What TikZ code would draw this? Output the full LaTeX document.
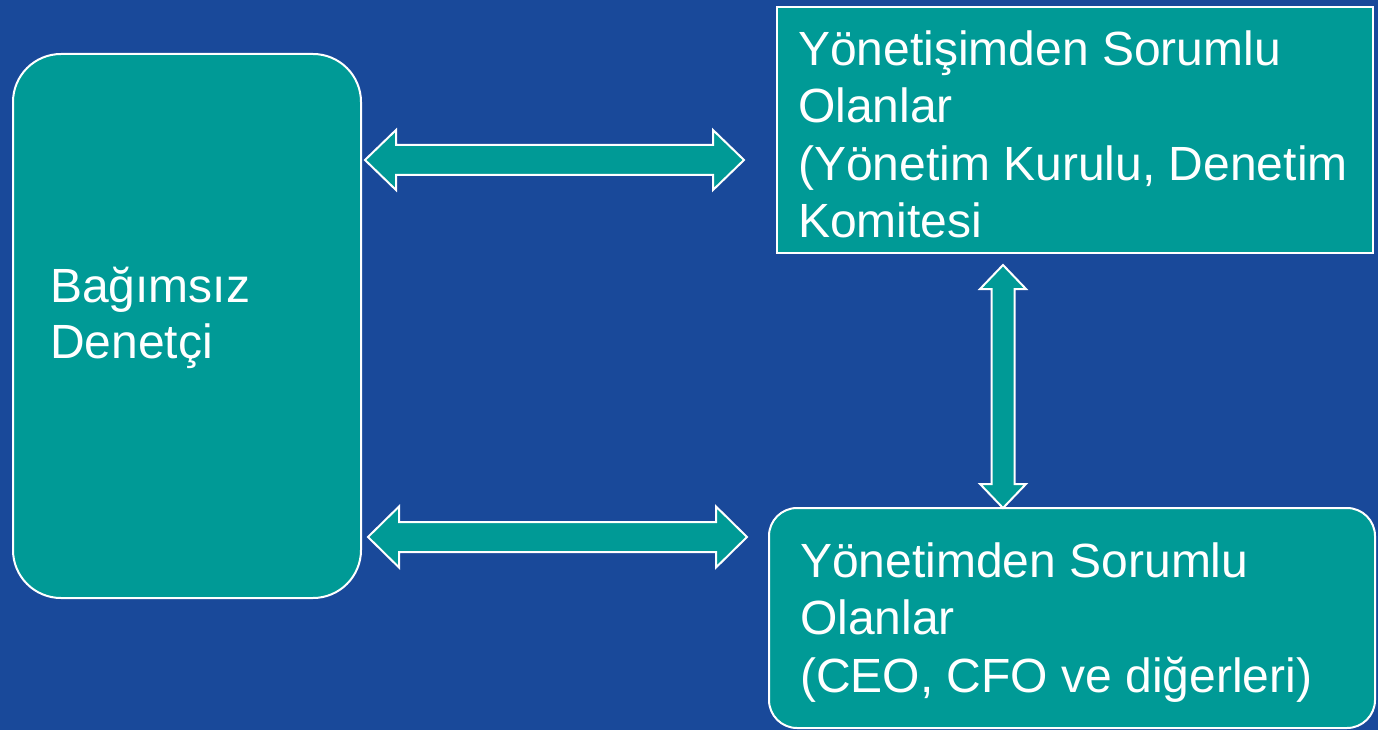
\documentclass[tikz,border=0pt]{standalone}
\usepackage{fontspec}
\setmainfont{Liberation Sans}
\usetikzlibrary{calc}
\definecolor{bgblue}{HTML}{19499A}
\definecolor{teal}{HTML}{009A96}
\newcommand\dblarrow[5]{%
 \draw[arrowsty] (#1) -- ($(#1)!#5!(#2)!#4!90:(#2)$) -- ($(#1)!#5!(#2)!#3!90:(#2)$)
  -- ($(#2)!#5!(#1)!#3!-90:(#1)$) -- ($(#2)!#5!(#1)!#4!-90:(#1)$) -- (#2)
  -- ($(#2)!#5!(#1)!#4!90:(#1)$) -- ($(#2)!#5!(#1)!#3!90:(#1)$)
  -- ($(#1)!#5!(#2)!#3!-90:(#2)$) -- ($(#1)!#5!(#2)!#4!-90:(#2)$) -- cycle;}
\begin{document}
\begin{tikzpicture}[x=1pt,y=-1pt,
  boxsty/.style={draw=white, line width=2pt, fill=teal, inner sep=0pt, outer sep=0pt},
  txtsty/.style={text=white, inner sep=0pt, anchor=north west, align=left,
    font={\fontsize{48}{57.5}\selectfont}},
  arrowsty/.style={draw=white, line width=2pt, fill=teal, line join=miter}]
\useasboundingbox (0,0) rectangle (1378,730);
\fill[bgblue] (0,0) rectangle (1378,730);
% boxes
\node[boxsty, rounded corners=48pt, minimum width=348pt, minimum height=544pt] (aud) at (187,326) {};
\node[boxsty, minimum width=596pt, minimum height=246pt] (gov) at (1075,130) {};
\node[boxsty, rounded corners=28pt, minimum width=606pt, minimum height=220pt] (mgmt) at (1072,618) {};
% texts
\node[txtsty, font={\fontsize{48}{56.5}\selectfont}] (audtxt) at (50,256) {\rule{0pt}{46pt}Bağımsız\\Denetçi};
\node[txtsty] (govtxt) at (798,19) {\rule{0pt}{46pt}Yönetişimden Sorumlu\\Olanlar\\(Yönetim Kurulu, Denetim\\Komitesi};
\node[txtsty] (mgmttxt) at (800,531) {\rule{0pt}{46pt}Yönetimden Sorumlu\\Olanlar\\(CEO, CFO ve diğerleri)};
% arrows
\coordinate (a1) at ($(aud.east |- 0,160)+(4,0)$);
\coordinate (b1) at ($(gov.west |- 0,160)+(-33,0)$);
\coordinate (a2) at ($(aud.east |- 0,537)+(7,0)$);
\coordinate (b2) at ($(mgmt.west |- 0,537)+(-22,0)$);
\coordinate (a3) at ($(gov.south -| 1003,0)+(0,12)$);
\coordinate (b3) at (mgmt.north -| 1003,0);
\dblarrow{a1}{b1}{15pt}{30pt}{31pt}
\dblarrow{a2}{b2}{15pt}{30.5pt}{31pt}
\dblarrow{a3}{b3}{11.5pt}{23pt}{24pt}
\end{tikzpicture}
\end{document}
